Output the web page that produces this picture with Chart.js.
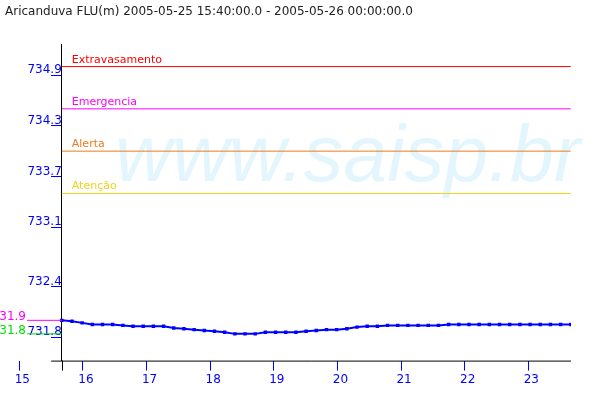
<!DOCTYPE html>
<html>
<head>
<meta charset="utf-8">
<script src="https://cdn.jsdelivr.net/npm/chart.js@4.4.0/dist/chart.umd.min.js"></script>
<style>
  html, body { margin: 0; padding: 0; background: #fff; }
</style>
</head>
<body>
<canvas id="levelChart" width="600" height="400"></canvas>
<script>
const titleText = "Aricanduva FLU(m) 2005-05-25 15:40:00.0 - 2005-05-26 00:00:00.0";

// readings, one every 0.16 h from 15:40
const startHour = 15 + 40 / 60;
const stepHour = 0.16;
const levels = [
    732.00, 731.99, 731.97, 731.95, 731.95, 731.95, 731.94, 731.93, 731.93, 731.93,
    731.93, 731.91, 731.90, 731.89, 731.88, 731.87, 731.86, 731.84, 731.84, 731.84,
    731.86, 731.86, 731.86, 731.86, 731.87, 731.88, 731.89, 731.89, 731.90, 731.92,
    731.93, 731.93, 731.94, 731.94, 731.94, 731.94, 731.94, 731.94, 731.95, 731.95,
    731.95, 731.95, 731.95, 731.95, 731.95, 731.95, 731.95, 731.95, 731.95, 731.95,
    731.95
];

const thresholdNames = ["Extravasamento", "Emergencia", "Alerta", "Atenção"];
const thresholdValues = [735.0, 734.5, 734.0, 733.5];
const thresholdColors = ["#ff0000", "#ff00ff", "#ee7a1c", "#f2d21a"];

const yTicks = [731.8, 732.4, 733.1, 733.7, 734.3, 734.9];
const xTicks = [15, 16, 17, 18, 19, 20, 21, 22, 23];

// first reading and minimum, shown left of the axis
const markerLabels = ["731.9", "731.8"];
const markerColors = ["#ff00ff", "#00e000"];

const times = levels.map((_, i) => startHour + i * stepHour);
const lastHour = times[times.length - 1];
const minLevel = Math.min(...levels);
const markerFromHour = 15.12;
const axisFromHour = 15.5;

const font12 = { family: "'DejaVu Sans', sans-serif", size: 12 };

const datasets = [];
thresholdValues.forEach((v, i) => {
    datasets.push({
        label: thresholdNames[i],
        data: [{ x: startHour, y: v }, { x: lastHour, y: v }],
        borderColor: thresholdColors[i],
        borderWidth: 1,
        pointRadius: 0
    });
});
[levels[0], minLevel].forEach((v, i) => {
    datasets.push({
        label: markerLabels[i],
        data: [{ x: markerFromHour, y: v }, { x: startHour, y: v }],
        borderColor: markerColors[i],
        borderWidth: 1,
        pointRadius: 0
    });
});
datasets.push({
    label: "Nível",
    data: times.map((t, i) => ({ x: t, y: levels[i] })),
    borderColor: "#0000ff",
    backgroundColor: "#0000ff",
    borderWidth: 2,
    pointStyle: "rect",
    pointRadius: 1,
    tension: 0
});

const decor = {
    id: "decor",
    beforeDatasetsDraw(chart) {
        const { ctx } = chart;
        ctx.save();
        ctx.font = "italic 79px 'Liberation Sans', sans-serif";
        ctx.fillStyle = "#e4f6fd";
        ctx.textAlign = "left";
        ctx.textBaseline = "alphabetic";
        ctx.fillText("www.saisp.br", 115, 181);
        ctx.restore();
    },
    afterDraw(chart) {
        const { ctx, chartArea, scales } = chart;
        const x = scales.x, y = scales.y;
        ctx.save();
        // axes
        ctx.strokeStyle = "#000";
        ctx.lineWidth = 1;
        ctx.beginPath();
        ctx.moveTo(x.getPixelForValue(axisFromHour), chartArea.bottom + 0.5);
        ctx.lineTo(chartArea.right, chartArea.bottom + 0.5);
        const ax = Math.round(x.getPixelForValue(startHour)) + 0.5;
        ctx.moveTo(ax, chartArea.bottom);
        ctx.lineTo(ax, chartArea.bottom + 10);
        ctx.stroke();

        ctx.font = "11px 'DejaVu Sans', sans-serif";
        ctx.textAlign = "left";
        ctx.textBaseline = "alphabetic";
        thresholdValues.forEach((v, i) => {
            ctx.fillStyle = thresholdColors[i];
            ctx.fillText(thresholdNames[i], x.getPixelForValue(startHour) + 10, y.getPixelForValue(v) - 4);
        });

        ctx.font = "12px 'DejaVu Sans', sans-serif";
        ctx.textAlign = "right";
        [levels[0], minLevel].forEach((v, i) => {
            ctx.fillStyle = markerColors[i];
            ctx.fillText(markerLabels[i], x.getPixelForValue(markerFromHour) - 1, y.getPixelForValue(v));
        });
        ctx.restore();
    }
};

new Chart(document.getElementById("levelChart"), {
    type: "line",
    data: { datasets },
    options: {
        responsive: false,
        animation: false,
        layout: { padding: { left: 5, right: 29, top: 0, bottom: 11 } },
        plugins: {
            legend: { display: false },
            tooltip: { enabled: false },
            title: {
                display: true,
                text: titleText,
                align: "start",
                color: "#222",
                font: { family: "'DejaVu Sans', sans-serif", size: 12, weight: "normal" },
                padding: { top: 5, bottom: 25 }
            }
        },
        scales: {
            x: {
                type: "linear",
                min: 14.79,
                max: 23.67,
                afterBuildTicks: scale => { scale.ticks = xTicks.map(v => ({ value: v })); },
                ticks: { color: "#0000ff", font: font12, labelOffset: 3, padding: 2, autoSkip: false, maxRotation: 0 },
                grid: { drawOnChartArea: false, color: "#0000ff", tickLength: 10 },
                border: { display: false }
            },
            y: {
                position: { x: startHour },
                min: 731.524,
                max: 735.262,
                afterBuildTicks: scale => { scale.ticks = yTicks.map(v => ({ value: v })); },
                ticks: {
                    color: "#0000ff",
                    font: font12,
                    labelOffset: -5,
                    padding: 0,
                    callback: (value, i) => yTicks[i].toFixed(1)
                },
                grid: { drawOnChartArea: false, color: "#0000ff", tickLength: 10 },
                border: { color: "#000", width: 1 }
            }
        }
    },
    plugins: [decor]
});
</script>
</body>
</html>
